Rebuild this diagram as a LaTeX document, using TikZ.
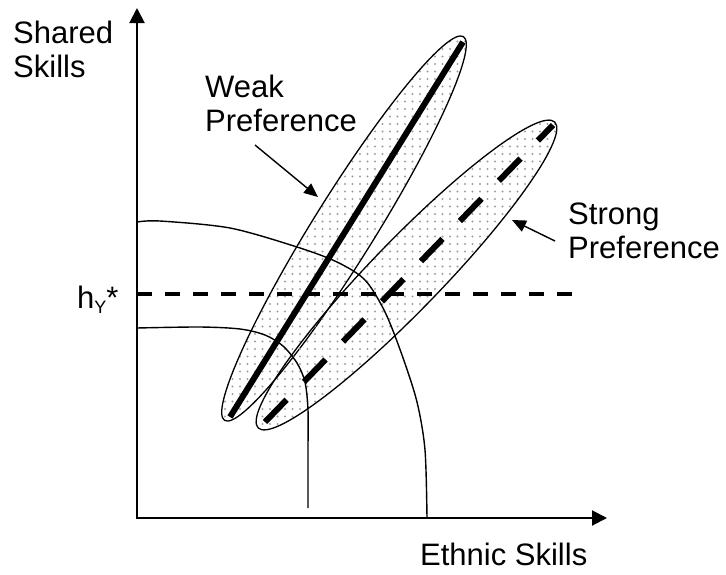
\documentclass[tikz,border=0pt]{standalone}
\usepackage{fontspec}
\setmainfont{Liberation Sans}
\usetikzlibrary{arrows.meta,patterns.meta}

\begin{document}
\begin{tikzpicture}[x=1pt,y=-1pt,>={Triangle[length=14pt,width=12pt]},lbl/.style={inner sep=0pt,align=left,font=\fontsize{31}{34.5}\selectfont},axis/.style={line width=2pt,{Triangle[length=15pt,width=15pt]}-{Triangle[length=15pt,width=15pt]}},oval/.style={draw,line width=1.3pt,pattern={Dots[distance=7.5pt,radius=1.1pt]},pattern color=gray!75},curve/.style={line width=1.4pt}]
\useasboundingbox (0,0) rectangle (726,574);
% axes
\coordinate (o) at (137,518);\coordinate (ytop) at (137,8);\coordinate (xend) at (607,518);
\draw[axis](ytop)--(o)--(xend);
% preference ovals
\coordinate (wc) at (344,228.5);\coordinate (sc) at (406.5,275);
\draw[oval,rotate around={58.1:(wc)}](wc) ellipse [x radius=226,y radius=31];
\draw[oval,rotate around={45.9:(sc)}](sc) ellipse [x radius=213,y radius=35];
% skill frontiers
\draw[curve] plot[smooth,tension=0.5] coordinates {(137,222) (160,221) (230,228) (297,247) (337,262) (365,280) (385,312) (402,355) (417,402) (425,450) (427,518)};
\draw[curve] plot[smooth,tension=0.5] coordinates {(137,328) (200,327) (240,329) (265,335) (283,346) (297,363) (305,382) (308,410) (308,450) (308,508)};
% threshold
\coordinate (hy) at (137,294);\coordinate (hyend) at (573,294);
\draw[line width=4pt,dash pattern=on 15pt off 13pt](hy)--(hyend);
% sorting lines
\coordinate (w1) at (230,417);\coordinate (w2) at (463,42);
\coordinate (s1) at (265,422);\coordinate (s2) at (553,125);
\draw[line width=6pt](w1)--(w2);
\draw[line width=6pt,dash pattern=on 31pt off 25pt](s1)--(s2);
% labels
\node[lbl,anchor=north west](ylab) at (13,20.5){Shared\\Skills};
\node[lbl,anchor=base west](xlab) at (420,565){Ethnic Skills};
\node[lbl,anchor=base west](hlab) at (77,308){h\raisebox{-5pt}{\fontsize{18}{18}\selectfont Y}*};
\node[lbl,anchor=north west](weak) at (205,74.5){Weak\\Preference};
\node[lbl,anchor=north west](strong) at (568,202.5){Strong\\Preference};
\coordinate (wtail) at (255,145);\coordinate (wtip) at (318,197);
\coordinate (stail) at (555,241);\coordinate (stip) at (512,220);
\draw[->,line width=1.4pt](wtail)--(wtip);\draw[->,line width=1.4pt](stail)--(stip);
\end{tikzpicture}
\end{document}
